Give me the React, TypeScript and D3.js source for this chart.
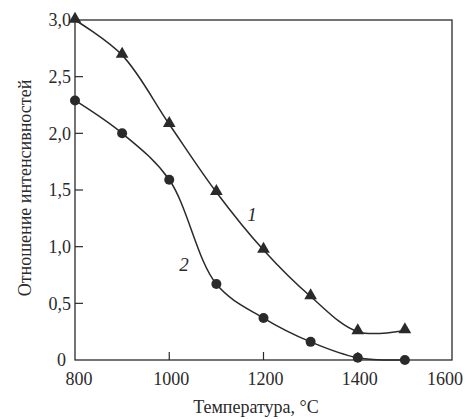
import React, { useEffect, useRef } from 'react'
import * as d3 from 'd3'

const temps = [800, 900, 1000, 1100, 1200, 1300, 1400, 1500]
const series1 = [3.0, 2.69, 2.08, 1.48, 0.97, 0.56, 0.25, 0.26]
const series2 = [2.29, 2.0, 1.59, 0.67, 0.37, 0.16, 0.02, 0.0]
const xTicks = [800, 1000, 1200, 1400, 1600]
const yTicks = [0, 0.5, 1.0, 1.5, 2.0, 2.5, 3.0]

const W = 465
const H = 419
const left = 75, right = 452, top = 20, bottom = 360
const font = '"Liberation Serif", "DejaVu Serif", serif'

function App() {
	const svgRef = useRef<SVGSVGElement>(null)

	useEffect(() => {
		const svg = d3.select(svgRef.current)
		svg.selectAll('*').remove()

		const x = d3.scaleLinear().domain([800, 1600]).range([left, right])
		const y = d3.scaleLinear().domain([0, 3]).range([bottom, top])
		const ink = '#2a2a2a'

		// frame
		svg.append('rect')
			.attr('x', left).attr('y', top)
			.attr('width', right - left).attr('height', bottom - top)
			.attr('fill', 'none').attr('stroke', ink).attr('stroke-width', 1.3)

		// y ticks (inward)
		const fmt = (d: number) => d === 0 ? '0' : d.toFixed(1).replace('.', ',')
		const yAxis = svg.append('g')
		yTicks.forEach(t => {
			if (t > 0 && t < 3) {
				yAxis.append('line')
					.attr('x1', left).attr('x2', left + 8)
					.attr('y1', y(t)).attr('y2', y(t))
					.attr('stroke', ink).attr('stroke-width', 1.2)
			}
			yAxis.append('text')
				.attr('x', t === 0 ? left - 9 : left - 4).attr('y', y(t))
				.attr('dy', t === 0 ? '0.35em' : '0.35em')
				.attr('text-anchor', 'end')
				.attr('font-family', font).attr('font-size', 18)
				.attr('fill', ink)
				.text(fmt(t))
		})

		// x ticks (inward)
		const xAxis = svg.append('g')
		xTicks.forEach((t, i) => {
			if (t > 800 && t < 1600) {
				xAxis.append('line')
					.attr('x1', x(t)).attr('x2', x(t))
					.attr('y1', bottom).attr('y2', bottom - 8)
					.attr('stroke', ink).attr('stroke-width', 1.2)
			}
			const last = i === xTicks.length - 1
			xAxis.append('text')
				.attr('x', last ? W - 2 : i === 0 ? x(t) + 4 : x(t) + 2)
				.attr('y', bottom + 25)
				.attr('text-anchor', last ? 'end' : 'middle')
				.attr('font-family', font).attr('font-size', 18)
				.attr('fill', ink)
				.text(t)
		})

		const line = d3.line<number>()
			.x((d, i) => x(temps[i]))
			.y(d => y(d))
			.curve(d3.curveCatmullRom.alpha(0.5))

		;[series1, series2].forEach(s => {
			svg.append('path')
				.attr('d', line(s))
				.attr('fill', 'none')
				.attr('stroke', ink)
				.attr('stroke-width', 1.5)
		})

		// triangles
		svg.append('g').selectAll('path')
			.data(series1)
			.join('path')
			.attr('d', d3.symbol().type(d3.symbolTriangle).size(70))
			.attr('transform', (d, i) => `translate(${x(temps[i])},${y(d) - 1})`)
			.attr('fill', ink)

		// circles
		svg.append('g').selectAll('circle')
			.data(series2)
			.join('circle')
			.attr('cx', (d, i) => x(temps[i]))
			.attr('cy', d => y(d))
			.attr('r', 5)
			.attr('fill', ink)

		// curve labels
		svg.append('text')
			.attr('x', 252).attr('y', 221)
			.attr('text-anchor', 'middle')
			.attr('font-family', font).attr('font-style', 'italic').attr('font-size', 19)
			.attr('fill', ink)
			.text('1')
		svg.append('text')
			.attr('x', 184).attr('y', 271)
			.attr('text-anchor', 'middle')
			.attr('font-family', font).attr('font-style', 'italic').attr('font-size', 19)
			.attr('fill', ink)
			.text('2')

		// axis titles
		svg.append('text')
			.attr('x', 256).attr('y', 413)
			.attr('text-anchor', 'middle')
			.attr('font-family', font).attr('font-size', 18)
			.attr('fill', ink)
			.text('Температура, °C')
		svg.append('text')
			.attr('transform', `translate(31,188) rotate(-90)`)
			.attr('text-anchor', 'middle')
			.attr('font-family', font).attr('font-size', 18)
			.attr('fill', ink)
			.text('Отношение интенсивностей')
	}, [])

	return (
		<svg ref={svgRef} width={W} height={H}
			style={{ position: 'absolute', left: 0, top: 0, background: '#fff' }} />
	)
}

export default App
